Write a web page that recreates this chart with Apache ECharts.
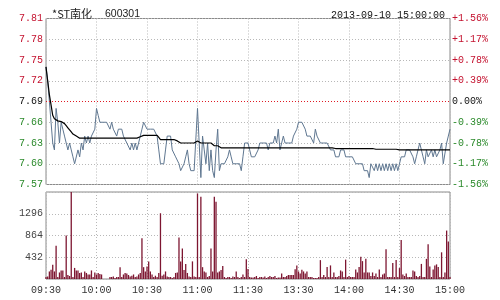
<!DOCTYPE html>
<html><head><meta charset="utf-8">
<script src="https://cdn.jsdelivr.net/npm/echarts@6/dist/echarts.min.js"></script>
<style>html,body{margin:0;padding:0;background:#fff}#c{width:500px;height:300px}</style>
</head><body><div id="c"></div>
<script>
var stockName = '*ST南化';
var stockCode = '600301';
var stamp = '2013-09-10 15:00:00';
var prevClose = 7.69;
var priceTicks = [7.57, 7.60, 7.63, 7.66, 7.69, 7.72, 7.75, 7.78, 7.81];
var volumeTicks = [0, 432, 864, 1296, 1728];
var tickLabels = ['09:30','10:00','10:30','11:00','11:30','13:30','14:00','14:30','15:00'];

var price = [
7.74,7.72,7.69,7.66,7.63,7.62,7.68,7.66,7.63,7.66,
7.65,7.64,7.63,7.62,7.63,7.62,7.61,7.60,7.60,7.62,
7.61,7.63,7.62,7.64,7.63,7.64,7.63,7.64,7.64,7.65,
7.68,7.67,7.66,7.66,7.66,7.66,7.66,7.66,7.65,7.66,
7.65,7.65,7.64,7.65,7.65,7.65,7.64,7.64,7.63,7.63,
7.62,7.63,7.62,7.63,7.62,7.63,7.64,7.65,7.66,7.66,
7.65,7.65,7.65,7.65,7.65,7.65,7.64,7.62,7.60,7.60,
7.60,7.62,7.64,7.64,7.64,7.62,7.62,7.61,7.61,7.60,
7.59,7.59,7.60,7.61,7.62,7.60,7.59,7.59,7.59,7.59,
7.68,7.68,7.58,7.64,7.62,7.60,7.63,7.59,7.62,7.59,
7.58,7.62,7.65,7.59,7.60,7.60,7.60,7.60,7.61,7.62,
7.61,7.60,7.60,7.60,7.60,7.60,7.59,7.61,7.63,7.63,
7.63,7.62,7.61,7.61,7.61,7.61,7.62,7.63,7.63,7.63,
7.63,7.63,7.62,7.63,7.63,7.63,7.64,7.63,7.65,7.62,
7.63,7.64,7.63,7.63,7.63,7.63,7.63,7.64,7.64,7.65,
7.66,7.66,7.66,7.66,7.65,7.64,7.64,7.64,7.64,7.63,
7.65,7.64,7.64,7.63,7.63,7.63,7.63,7.63,7.63,7.62,
7.62,7.62,7.61,7.61,7.61,7.62,7.62,7.62,7.61,7.61,
7.61,7.61,7.61,7.61,7.60,7.60,7.60,7.60,7.60,7.59,
7.59,7.59,7.58,7.60,7.60,7.59,7.60,7.59,7.60,7.59,
7.60,7.59,7.60,7.59,7.60,7.59,7.60,7.59,7.60,7.59,
7.59,7.61,7.61,7.61,7.62,7.62,7.62,7.62,7.61,7.60,
7.61,7.62,7.63,7.62,7.61,7.60,7.62,7.61,7.61,7.62,
7.61,7.62,7.61,7.61,7.62,7.63,7.60,7.60,7.63,7.64,
7.65
];

var avgPrice = [
7.740,7.720,7.700,7.685,7.670,7.665,7.663,7.662,7.662,7.661,
7.660,7.658,7.655,7.652,7.650,7.646,7.643,7.641,7.640,7.638,
7.637,7.637,7.637,7.637,7.637,7.637,7.637,7.637,7.637,7.637,
7.637,7.637,7.637,7.637,7.637,7.637,7.637,7.637,7.637,7.637,
7.637,7.637,7.637,7.637,7.637,7.637,7.637,7.637,7.637,7.637,
7.637,7.637,7.637,7.637,7.637,7.638,7.639,7.640,7.641,7.641,
7.641,7.641,7.641,7.641,7.641,7.641,7.641,7.638,7.635,7.635,
7.635,7.635,7.635,7.635,7.635,7.635,7.635,7.633,7.633,7.633,
7.630,7.630,7.630,7.630,7.630,7.630,7.630,7.630,7.630,7.630,
7.633,7.634,7.630,7.630,7.630,7.630,7.630,7.630,7.630,7.630,
7.626,7.626,7.626,7.626,7.623,7.623,7.623,7.623,7.623,7.623,
7.623,7.623,7.623,7.623,7.623,7.623,7.623,7.623,7.623,7.623,
7.623,7.623,7.623,7.623,7.623,7.623,7.623,7.623,7.623,7.623,
7.623,7.623,7.623,7.623,7.623,7.623,7.623,7.623,7.623,7.623,
7.623,7.623,7.623,7.623,7.623,7.623,7.623,7.623,7.623,7.623,
7.623,7.623,7.623,7.623,7.623,7.623,7.623,7.623,7.623,7.623,
7.623,7.623,7.623,7.623,7.623,7.623,7.623,7.623,7.623,7.623,
7.623,7.622,7.622,7.622,7.622,7.622,7.622,7.622,7.622,7.622,
7.622,7.622,7.622,7.622,7.622,7.622,7.622,7.622,7.622,7.622,
7.622,7.622,7.622,7.622,7.622,7.622,7.621,7.621,7.621,7.621,
7.621,7.621,7.621,7.621,7.621,7.621,7.621,7.621,7.621,7.620,
7.620,7.620,7.620,7.620,7.620,7.620,7.620,7.620,7.620,7.620,
7.620,7.620,7.620,7.620,7.620,7.620,7.620,7.620,7.620,7.620,
7.620,7.620,7.620,7.620,7.620,7.620,7.620,7.620,7.620,7.620,
7.620
];

var volume = [
40,50,150,185,283,150,659,40,130,170,
170,40,863,80,60,1728,40,220,170,170,
120,130,40,150,120,90,90,170,40,130,
90,120,100,90,0,0,0,0,40,40,
50,20,40,40,235,40,90,120,110,80,
50,65,90,40,50,90,120,810,235,150,
250,350,150,90,40,65,40,120,1306,65,
90,150,50,40,40,20,40,120,130,825,
350,605,180,300,120,50,40,350,50,40,
1700,40,1635,235,150,130,40,60,605,150,
1635,1536,130,150,180,260,40,20,40,40,
20,50,40,150,40,20,40,90,40,390,
200,40,30,30,40,60,20,40,40,30,
50,20,40,60,40,40,60,20,30,30,
110,40,40,60,80,80,80,80,195,270,
150,110,185,150,110,150,40,40,40,20,
20,20,40,375,40,80,40,240,40,270,
40,130,40,40,60,170,150,40,385,40,
60,40,40,40,190,130,240,440,355,130,
400,130,130,60,130,60,110,40,190,40,
90,110,590,40,40,40,320,40,375,40,
217,775,90,60,110,40,40,40,170,150,
60,40,60,300,40,40,400,690,250,40,
190,270,290,240,40,530,40,130,962,745,
40
];

// minute categories: 09:30-11:30 and 13:01-15:00
function pad(n){return (n<10?'0':'')+n;}
var times = [];
for (var m = 9*60+30; m <= 11*60+30; m++) times.push(pad(Math.floor(m/60))+':'+pad(m%60));
for (var m2 = 13*60+1; m2 <= 15*60; m2++) times.push(pad(Math.floor(m2/60))+':'+pad(m2%60));

// price axis expressed in cents relative to previous close (linear unit change)
var priceCents = price.map(function(p){return +((p - prevClose)*100).toFixed(3);});
var avgCents = avgPrice.map(function(p){return +((p - prevClose)*100).toFixed(3);});
var pMin = Math.round((priceTicks[0]-prevClose)*100);
var pMax = Math.round((priceTicks[priceTicks.length-1]-prevClose)*100);
var pInt = Math.round((priceTicks[1]-priceTicks[0])*100);

var RED = '#c4122f', GREEN = '#2b8a2b', MONO = 'Liberation Mono, DejaVu Sans Mono, monospace';
function colorFor(v){ return v > 0.001 ? RED : (v < -0.001 ? GREEN : '#111'); }
var grid = {show:true, borderColor:'#8a8a8a', borderWidth:1, backgroundColor:'#fff'};
var split = {show:true, lineStyle:{color:'#b8b8b8', type:[1,2], width:1}};
var vSplit = {show:true, interval:function(i){return i%30===0;}, lineStyle:{color:'#b8b8b8', type:[1,2], width:1}};

var chart = echarts.init(document.getElementById('c'), null, {renderer:'canvas'});
chart.setOption({
  animation:false,
  backgroundColor:'#fff',
  title:[
    {text:stockName, left:47, top:3, textStyle:{fontSize:11, fontWeight:'normal', color:'#222', fontFamily:'Noto Sans CJK SC'}},
    {text:stockCode, left:100, top:4, textStyle:{fontSize:10.5, fontWeight:'normal', color:'#222', fontFamily:'Liberation Sans, Arial, sans-serif'}},
    {text:stamp, right:50, top:5, textStyle:{fontSize:10, fontWeight:'normal', color:'#111', fontFamily:MONO}}
  ],
  grid:[
    Object.assign({left:46, top:18.5, width:404, height:166}, grid),
    Object.assign({left:46, top:192, width:404, height:87}, grid)
  ],
  xAxis:[
    {type:'category', gridIndex:0, data:times, boundaryGap:false, axisLine:{show:false}, axisTick:{show:false}, axisLabel:{show:false}, splitLine:vSplit},
    {type:'category', gridIndex:1, data:times, boundaryGap:false, axisLine:{show:false}, axisTick:{show:false},
     axisLabel:{show:true, interval:function(i){return i%30===0;}, formatter:function(v, i){return tickLabels[Math.round(i/30)] || v;}, color:'#333', fontFamily:MONO, fontSize:10, margin:6},
     splitLine:vSplit}
  ],
  yAxis:[
    {type:'value', gridIndex:0, position:'left', min:pMin, max:pMax, interval:pInt,
     axisLine:{show:false}, axisTick:{show:false}, splitLine:split,
     axisLabel:{margin:3, fontFamily:MONO, fontSize:10, formatter:function(v){return (prevClose + v/100).toFixed(2);}, color:function(v){return colorFor(+v);}}},
    {type:'value', gridIndex:0, position:'right', min:pMin, max:pMax, interval:pInt,
     axisLine:{show:false}, axisTick:{show:false}, splitLine:{show:false},
     axisLabel:{margin:2, fontFamily:MONO, fontSize:10, formatter:function(v){var pct = (v/100)/prevClose*100; if (Math.abs(v)<0.001) return '0.00%'; return (pct>0?'+':'') + pct.toFixed(2) + '%';}, color:function(v){return colorFor(+v);}}},
    {type:'value', gridIndex:1, position:'left', min:volumeTicks[0], max:volumeTicks[volumeTicks.length-1], interval:volumeTicks[1]-volumeTicks[0],
     axisLine:{show:false}, axisTick:{show:false}, splitLine:split,
     axisLabel:{margin:3, fontFamily:MONO, fontSize:10, color:'#444', formatter:function(v){return (v===volumeTicks[0]||v===volumeTicks[volumeTicks.length-1]) ? '' : String(v);}}}
  ],
  series:[
    {type:'line', name:'price', xAxisIndex:0, yAxisIndex:0, data:priceCents, showSymbol:false, symbol:'none',
     lineStyle:{color:'#5f7791', width:1}, z:3,
     markLine:{silent:true, symbol:'none', label:{show:false}, lineStyle:{color:'#e01a24', type:[1,2], width:1}, data:[{yAxis:0}]}},
    {type:'line', name:'avg', xAxisIndex:0, yAxisIndex:0, data:avgCents, showSymbol:false, symbol:'none',
     lineStyle:{color:'#000', width:1.2}, z:4},
    {type:'bar', name:'volume', xAxisIndex:1, yAxisIndex:2, data:volume, barWidth:1.3,
     itemStyle:{color:'#7d1631'}}
  ]
});
</script>
</body></html>
